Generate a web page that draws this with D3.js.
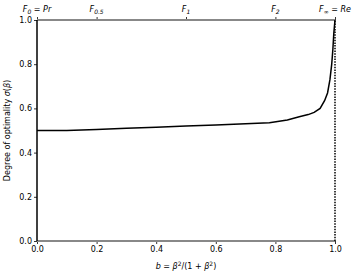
<!DOCTYPE html>
<html>
<head>
<meta charset="utf-8">
<script src="https://cdn.jsdelivr.net/npm/d3@7"></script>
<style>
  body { margin: 0; background: #fff; }
  text { font-family: "DejaVu Sans", sans-serif; }
</style>
</head>
<body>
<svg id="chart" width="357" height="276"></svg>
<script>
// curve
const bVals = [0, 0.05, 0.1, 0.2, 0.3, 0.4, 0.5, 0.6, 0.7, 0.78, 0.84, 0.88, 0.91, 0.93, 0.95, 0.965, 0.975, 0.983, 0.989, 0.993, 0.996, 0.998, 1.0];
const sigmaVals = [0.5, 0.5, 0.5, 0.505, 0.51, 0.515, 0.52, 0.525, 0.53, 0.535, 0.548, 0.562, 0.572, 0.582, 0.6, 0.635, 0.67, 0.73, 0.8, 0.87, 0.94, 0.97, 1.0];
const xTicks = [0, 0.2, 0.4, 0.6, 0.8, 1.0];
const yTicks = [0, 0.2, 0.4, 0.6, 0.8, 1.0];
const topTickPos = [0, 0.2, 0.5, 0.8, 1.0];
const topTickLabels = [["F", "0", " = Pr"], ["F", "0.5", ""], ["F", "1", ""], ["F", "2", ""], ["F", "∞", " = Re"]];

const svg = d3.select("#chart");
const margin = {left: 37, right: 22, top: 20, bottom: 35};
const W = 357, H = 276;

const x = d3.scaleLinear().domain([0, 1]).range([margin.left, W - margin.right]);
const y = d3.scaleLinear().domain([0, 1]).range([H - margin.bottom, margin.top]);

// axes
const xAxis = svg.append("g").attr("transform", `translate(0,${y(0)})`)
  .call(d3.axisBottom(x).tickValues(xTicks).tickFormat(d3.format(".1f")).tickSize(3).tickPadding(2));
const yAxis = svg.append("g").attr("transform", `translate(${x(0)},0)`)
  .call(d3.axisLeft(y).tickValues(yTicks).tickFormat(d3.format(".1f")).tickSize(3).tickPadding(2));
const topAxis = svg.append("g").attr("transform", `translate(0,${y(1)})`)
  .call(d3.axisTop(x).tickValues(topTickPos).tickFormat("").tickSize(3));

[xAxis, yAxis, topAxis].forEach(a => {
  a.select(".domain").remove();
  a.selectAll("text").attr("font-size", 8).attr("fill", "#000");
  a.selectAll("line").attr("stroke", "#000").attr("stroke-width", 0.8);
});

// top tick labels
topTickPos.forEach((p, i) => {
  const lab = topTickLabels[i];
  const t = svg.append("text").attr("x", x(p)).attr("y", 12)
    .attr("text-anchor", "middle").attr("font-size", 8).attr("font-style", "italic");
  t.append("tspan").text(lab[0]);
  t.append("tspan").attr("font-size", 6).attr("dy", 2).text(lab[1]);
  if (lab[2]) t.append("tspan").attr("dy", -2).text(lab[2]);
});

// frame lines: gray at top and bottom, black left, dotted right
svg.append("line").attr("x1", x(0)).attr("x2", x(1)).attr("y1", y(1)).attr("y2", y(1))
  .attr("stroke", "#888").attr("stroke-width", 2);
svg.append("line").attr("x1", x(0)).attr("x2", x(1)).attr("y1", y(0)).attr("y2", y(0))
  .attr("stroke", "#888").attr("stroke-width", 2);
svg.append("line").attr("x1", x(0)).attr("x2", x(0)).attr("y1", y(0)).attr("y2", y(1))
  .attr("stroke", "#000").attr("stroke-width", 1.5);
svg.append("line").attr("x1", x(1)).attr("x2", x(1)).attr("y1", y(0)).attr("y2", y(1))
  .attr("stroke", "#000").attr("stroke-width", 1.5).attr("stroke-dasharray", "1.5,1.2");

// curve
const pts = bVals.map((b, i) => [b, sigmaVals[i]]);
svg.append("path").datum(pts)
  .attr("d", d3.line().x(d => x(d[0])).y(d => y(d[1])))
  .attr("fill", "none").attr("stroke", "#000").attr("stroke-width", 1.5);

// axis labels
const xl = svg.append("text").attr("x", x(0.5)).attr("y", 269)
  .attr("text-anchor", "middle").attr("font-size", 8);
xl.append("tspan").attr("font-style", "italic").text("b");
xl.append("tspan").text(" = ");
xl.append("tspan").attr("font-style", "italic").text("β");
xl.append("tspan").attr("font-size", 6).attr("dy", -3).text("2");
xl.append("tspan").attr("dy", 3).text("/(1 + ");
xl.append("tspan").attr("font-style", "italic").text("β");
xl.append("tspan").attr("font-size", 6).attr("dy", -3).text("2");
xl.append("tspan").attr("dy", 3).text(")");

const yl = svg.append("text").attr("transform", `translate(10,${y(0.5)}) rotate(-90)`)
  .attr("text-anchor", "middle").attr("font-size", 8);
yl.append("tspan").text("Degree of optimality ");
yl.append("tspan").attr("font-style", "italic").text("σ");
yl.append("tspan").text("(");
yl.append("tspan").attr("font-style", "italic").text("β");
yl.append("tspan").text(")");
</script>
</body>
</html>
